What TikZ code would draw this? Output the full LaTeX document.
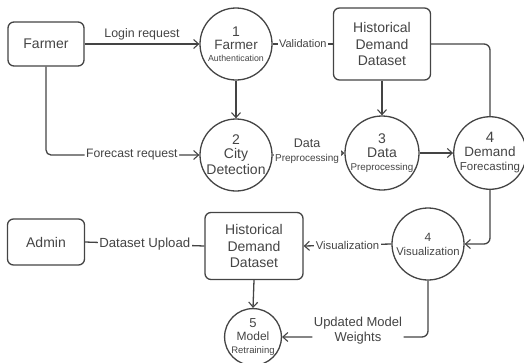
\documentclass[tikz,border=0pt]{standalone}
\usepackage{fontspec}
\setmainfont{Liberation Sans}
\usetikzlibrary{arrows.meta}
\definecolor{ink}{HTML}{444444}
\newcommand{\fs}[1]{\fontsize{#1}{#1}\selectfont}
\begin{document}
\begin{tikzpicture}[x=1pt,y=-1pt,
  every node/.style={text=ink},
  line/.style={draw=ink,line width=1.3pt},
  arr/.style={line,-{Straight Barb[length=5pt,width=9pt,line width=1.1pt]}},
  ent/.style={draw=ink,line width=1.3pt,rounded corners=6pt,align=center,inner sep=0pt},
  proc/.style={draw=ink,line width=1.3pt,circle,align=center,inner sep=0pt},
  lbl/.style={fill=white,inner sep=1.5pt,align=center}]
\useasboundingbox (0,0) rectangle (524,362);
\node[ent,minimum width=76pt,minimum height=44pt,font=\fs{14}] (farmer) at (46,44) {Farmer};
\node[proc,minimum size=72pt] (p1) at (236,44) {{\fs{14}1}\\[1pt]{\fs{13.5}Farmer}\\[0pt]{\fs{8.8}Authentication}};
\node[ent,minimum width=97pt,minimum height=72pt,font=\fontsize{14}{16.5}\selectfont] (hd1) at (382,44) {Historical\\Demand\\Dataset};
\node[proc,minimum size=72pt] (p2) at (236,155) {{\fs{14}2}\\[2pt]{\fs{14}City}\\[2pt]{\fs{14}Detection}};
\node[proc,minimum size=74pt] (p3) at (382,153) {{\fs{14}3}\\[2pt]{\fs{14}Data}\\[1pt]{\fs{9.8}Preprocessing}};
\node[proc,minimum size=69pt] (p4) at (490,153) {{\fs{15}4}\\[2pt]{\fs{13.5}Demand}\\[2pt]{\fs{11.5}Forecasting}};
\node[proc,minimum size=72pt] (p4v) at (428,244) {{\fs{12}4}\\[2pt]{\fs{11.3}Visualization}};
\node[ent,minimum width=98pt,minimum height=67pt,font=\fontsize{14}{16.5}\selectfont] (hd2) at (254,246) {Historical\\Demand\\Dataset};
\node[ent,minimum width=77pt,minimum height=46pt,font=\fs{14}] (admin) at (46,242) {Admin};
\node[proc,minimum size=56pt] (p5) at (253,337) {{\fs{13}5}\\[1pt]{\fs{12}Model}\\[1pt]{\fs{9.5}Retraining}};
% connectors
\draw[arr] (farmer.east) -- node[above=0pt,font=\fs{12.4}] {Login request} (p1.west);
\draw[line] (p1.east) -- node[lbl,font=\fs{11}] {Validation} (hd1.west);
\draw[arr] (p1.south) -- (p2.north);
\draw[arr,rounded corners=5pt] (farmer.south) |- node[lbl,pos=0.78,font=\fs{12.2}] {Forecast request} (p2.west);
\draw[arr] (p2.east) -- node[lbl,pos=0.48,yshift=3pt] {{\fs{12.5}Data}\\[2pt]{\fs{10}Preprocessing}} (p3.west);
\draw[arr] (hd1.south) -- (p3.north);
\draw[arr] (p3.east) -- (p4.west);
\draw[line,rounded corners=6pt] (hd1.east) -| (p4.north);
\draw[arr,rounded corners=6pt] (p4.south) |- (p4v.east);
\draw[arr] (p4v.west) -- node[lbl,font=\fs{11.3}] {Visualization} (hd2.east);
\draw[line] (admin.east) -- node[lbl,font=\fs{13.2}] {Dataset Upload} (hd2.west);
\draw[arr] (hd2.south) -- (p5.north);
\draw[arr,rounded corners=6pt] (p4v.south) |- node[lbl,pos=0.74,yshift=6pt,font=\fontsize{13}{15}\selectfont] {Updated Model\\Weights} (p5.east);
\end{tikzpicture}
\end{document}
